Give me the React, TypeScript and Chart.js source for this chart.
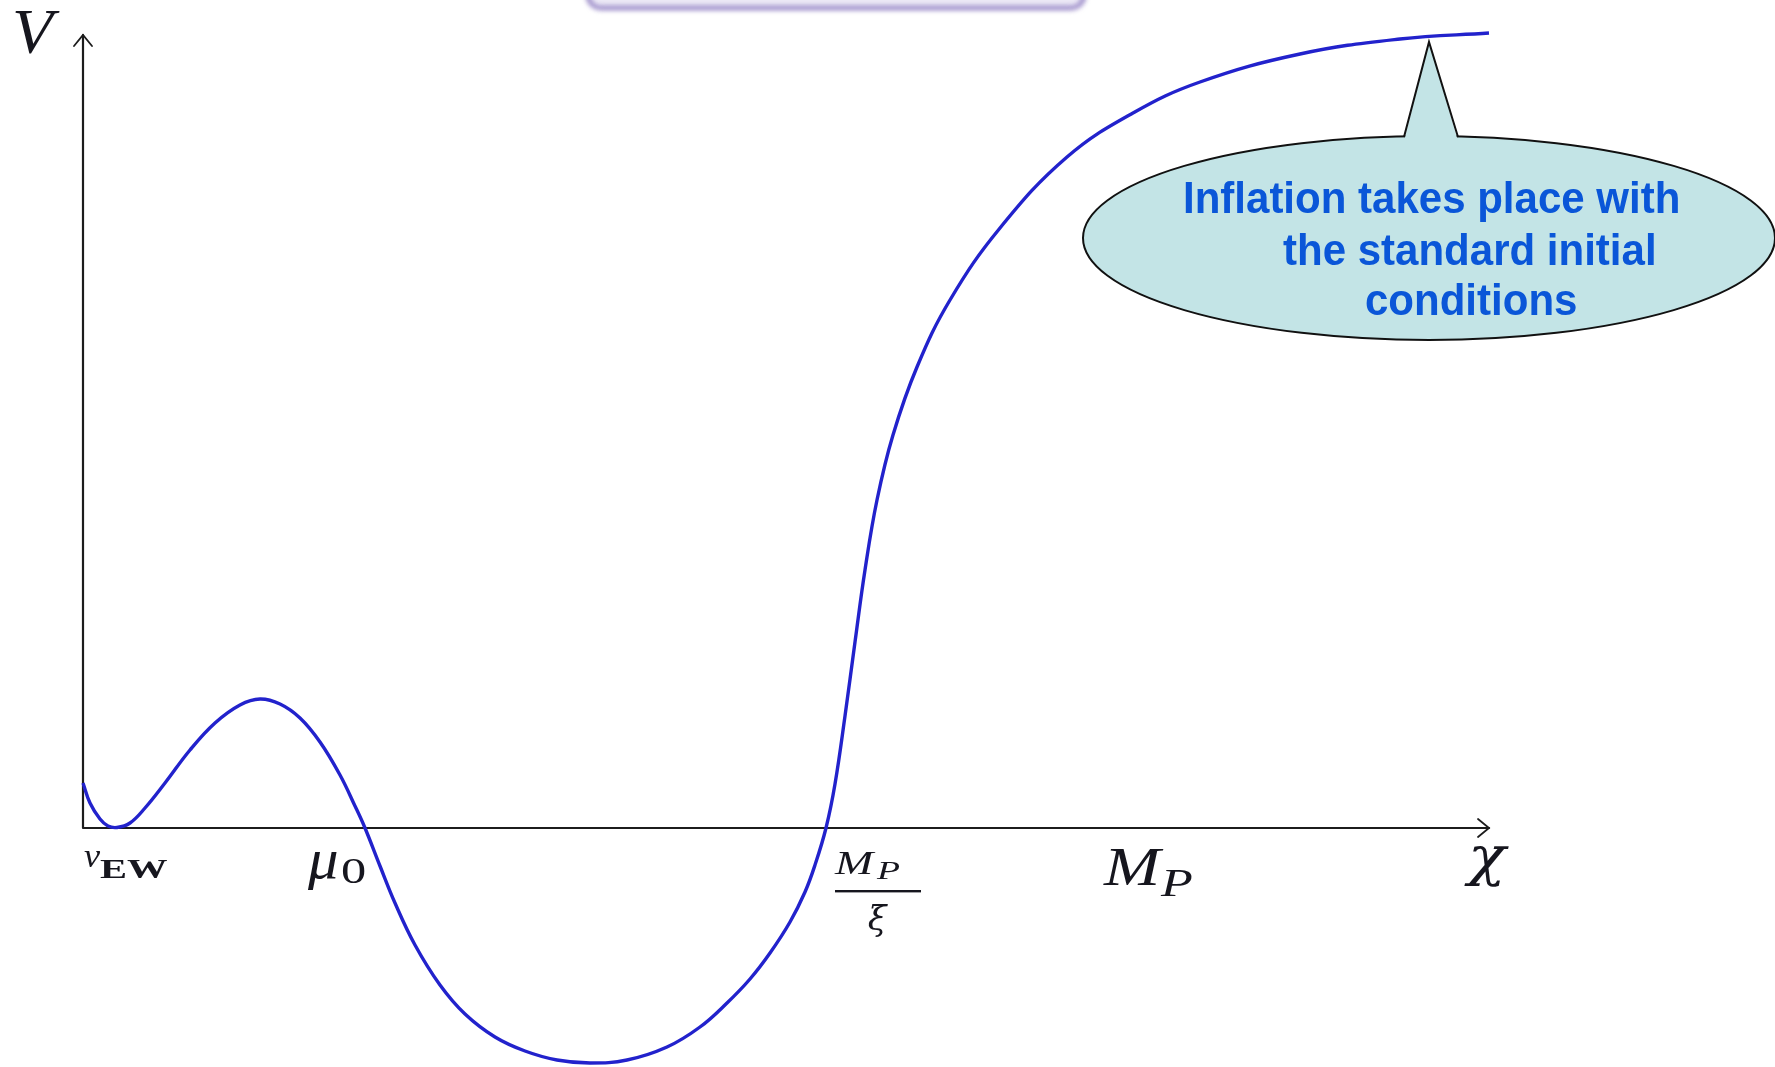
import React, { useEffect, useRef } from "react";
import { Chart, registerables } from "chart.js";

Chart.register(...registerables);

const W = 1775;
const H = 1067;

// Field value χ (arbitrary units) and the potential V(χ) sampled along the curve
const chiValues = [
  0, 0.7, 1.7, 2.5, 3.4, 4.7, 6.2, 8.2, 10.7, 13.2, 15.7, 17.7, 19.7, 21.7, 23.7,
  25.7, 27.2, 28.2, 29.7, 31.2, 33.2, 35.7, 38.2, 41.2, 44.2, 47.4, 50.7, 54.4,
  58.4, 61.7, 64.4, 66.7, 68.7, 70.7, 72.2, 73.2, 74.3, 75.2, 76.2, 77.2, 78.2,
  79.4, 81.0, 83.4, 86.7, 91.7, 98.4, 105.0, 111.7, 121.7, 131.7, 140.6,
];
const potentialValues = [
  4.5, 2.5, 0.9, 0.2, 0.05, 0.5, 2.0, 4.5, 7.8, 10.5, 12.3, 12.9, 12.4, 11.0, 8.6,
  5.3, 2.2, 0, -3.8, -7.5, -11.7, -15.7, -18.6, -20.9, -22.3, -23.2, -23.5, -23.2,
  -21.9, -19.9, -17.5, -15.1, -12.5, -9.4, -6.4, -3.7, 0, 4.4, 11.2, 18.6, 25.8,
  32.8, 39.3, 46.1, 52.8, 60.0, 67.1, 71.5, 74.6, 77.4, 78.9, 79.5,
];

// Axis extents
const CHI_MIN = 0;
const CHI_MAX = 140.6;
const V_MIN = -23.9;
const V_MAX = 79.5;
const V_AXIS_TIP = 79.3;

// Positions (in χ) of the marked field values on the horizontal axis
const markChi = {
  vEW: 0,
  mu0: 22.5,
  mpXi: 79.4,
  mp: 102.4,
  chi: 138.5,
};

// Callout
const calloutLines = ["Inflation takes place with", "the standard initial", "conditions"];
const calloutLineChi = [110.0, 120.0, 128.2];
const calloutTip = { chi: 134.6, v: 78.6 };
const calloutCenter = { chi: 134.6, v: 59.0 };

const SERIF = '"Liberation Serif", "DejaVu Serif", "Times New Roman", serif';
const GREEK = '"DejaVu Serif", "Liberation Serif", serif';
const SANS = '"Liberation Sans", Arial, Helvetica, sans-serif';
const INK = "#16161e";

const sketchPlugin = {
  id: "potentialSketch",
  beforeDatasetsDraw(chart: any) {
    const ctx: CanvasRenderingContext2D = chart.ctx;
    const xs = chart.scales.x;
    const ys = chart.scales.y;

    // partially visible title frame above the plot
    ctx.save();
    ctx.filter = "blur(2.5px)";
    ctx.beginPath();
    ctx.roundRect(588, -50, 496, 58, 13);
    ctx.fillStyle = "rgba(236,233,246,1)";
    ctx.fill();
    ctx.lineWidth = 4;
    ctx.strokeStyle = "rgba(128,108,185,0.9)";
    ctx.stroke();
    ctx.restore();

    const x0 = xs.getPixelForValue(0);
    const y0 = ys.getPixelForValue(0);
    const xEnd = xs.getPixelForValue(CHI_MAX);
    const yTop = ys.getPixelForValue(V_AXIS_TIP);

    ctx.save();
    ctx.strokeStyle = "#1c1c1c";
    ctx.lineWidth = 2.2;
    ctx.lineCap = "round";
    ctx.beginPath();
    ctx.moveTo(x0, y0);
    ctx.lineTo(x0, yTop);
    ctx.moveTo(x0, y0);
    ctx.lineTo(xEnd, y0);
    ctx.stroke();

    // arrow heads
    ctx.lineWidth = 1.8;
    ctx.beginPath();
    ctx.moveTo(x0 - 9, yTop + 11);
    ctx.lineTo(x0, yTop);
    ctx.lineTo(x0 + 9, yTop + 11);
    ctx.moveTo(xEnd - 11, y0 - 9);
    ctx.lineTo(xEnd, y0);
    ctx.lineTo(xEnd - 11, y0 + 9);
    ctx.stroke();
    ctx.restore();
  },
  afterDatasetsDraw(chart: any) {
    const ctx: CanvasRenderingContext2D = chart.ctx;
    const xs = chart.scales.x;
    const ys = chart.scales.y;
    const y0 = ys.getPixelForValue(0);

    // text with optional horizontal stretch
    const text = (s: string, x: number, y: number, font: string, sx = 1, align: CanvasTextAlign = "left") => {
      ctx.save();
      ctx.font = font;
      ctx.textAlign = align;
      ctx.translate(x, y);
      ctx.scale(sx, 1);
      ctx.fillText(s, 0, 0);
      ctx.restore();
    };

    ctx.save();
    ctx.fillStyle = INK;
    ctx.textBaseline = "alphabetic";

    // V axis label
    text("V", 12, 53, `italic 64px ${SERIF}`, 1.05);

    // v_EW
    const xv = xs.getPixelForValue(markChi.vEW);
    text("v", xv + 1, y0 + 39, `italic 33px ${SERIF}`, 1.1);
    text("EW", xv + 17, y0 + 50, `bold 27px ${SERIF}`, 1.5);

    // μ0
    const xm = xs.getPixelForValue(markChi.mu0);
    text("μ", xm, y0 + 50, `italic 58px ${SERIF}`, 1.05);
    text("0", xm + 33, y0 + 55, `36px ${SERIF}`, 1.4);

    // M_P / ξ
    const xf = xs.getPixelForValue(markChi.mpXi);
    text("M", xf - 42, y0 + 46, `italic 34px ${SERIF}`, 1.35);
    text("P", xf + 0, y0 + 51, `italic 26px ${SERIF}`, 1.45);
    ctx.fillRect(xf - 42, y0 + 62, 86, 2.4);
    text("ξ", xf, y0 + 102, `italic 34px ${GREEK}`, 1.0, "center");

    // M_P
    const xp = xs.getPixelForValue(markChi.mp);
    text("M", xp - 3, y0 + 57, `italic 54px ${SERIF}`, 1.25);
    text("P", xp + 54, y0 + 68, `italic 40px ${SERIF}`, 1.3);

    // χ
    const xc = xs.getPixelForValue(markChi.chi);
    text("χ", xc, y0 + 47, `italic 54px ${GREEK}`, 1.15);
    ctx.restore();

    // callout bubble
    const cx = xs.getPixelForValue(calloutCenter.chi);
    const cy = ys.getPixelForValue(calloutCenter.v);
    const tx = xs.getPixelForValue(calloutTip.chi);
    const ty = ys.getPixelForValue(calloutTip.v);
    const rx = 346;
    const ry = 102;
    const baseY = cy - ry + 1;
    const fill = "#c3e4e6";

    ctx.save();
    ctx.beginPath();
    ctx.ellipse(cx, cy, rx, ry, 0, 0, Math.PI * 2);
    ctx.fillStyle = fill;
    ctx.fill();
    ctx.lineWidth = 2;
    ctx.strokeStyle = "#111";
    ctx.stroke();

    ctx.beginPath();
    ctx.moveTo(tx - 25, baseY + 4);
    ctx.lineTo(tx, ty);
    ctx.lineTo(tx + 29, baseY + 4);
    ctx.closePath();
    ctx.fillStyle = fill;
    ctx.fill();
    ctx.beginPath();
    ctx.moveTo(tx - 25, baseY);
    ctx.lineTo(tx, ty);
    ctx.lineTo(tx + 29, baseY);
    ctx.lineJoin = "miter";
    ctx.stroke();

    ctx.fillStyle = "#0a56d8";
    ctx.font = `bold 44px ${SANS}`;
    ctx.textAlign = "left";
    const baselines = [cy - 25, cy + 27, cy + 77];
    calloutLines.forEach((line, i) => {
      ctx.save();
      ctx.translate(xs.getPixelForValue(calloutLineChi[i]), baselines[i]);
      ctx.scale(0.955, 1);
      ctx.fillText(line, 0, 0);
      ctx.restore();
    });
    ctx.restore();
  },
};

export default function App() {
  const canvasRef = useRef<HTMLCanvasElement | null>(null);

  useEffect(() => {
    const canvas = canvasRef.current;
    if (!canvas) return;
    const chart = new Chart(canvas, {
      type: "line",
      data: {
        datasets: [
          {
            data: chiValues.map((x, i) => ({ x, y: potentialValues[i] })),
            borderColor: "#2222cc",
            borderWidth: 3.4,
            pointRadius: 0,
            fill: false,
            tension: 0.4,
            clip: false,
          } as any,
        ],
      },
      options: {
        responsive: false,
        maintainAspectRatio: false,
        animation: false,
        devicePixelRatio: 1,
        layout: { padding: { left: 83, right: W - 1489, top: 33, bottom: 0 } },
        scales: {
          x: { type: "linear", min: CHI_MIN, max: CHI_MAX, display: false },
          y: { type: "linear", min: V_MIN, max: V_MAX, display: false },
        },
        plugins: { legend: { display: false }, tooltip: { enabled: false } },
        events: [],
      },
      plugins: [sketchPlugin],
    });
    return () => chart.destroy();
  }, []);

  return (
    <div style={{ position: "fixed", left: 0, top: 0, width: W, height: H, background: "#fff" }}>
      <canvas ref={canvasRef} width={W} height={H} style={{ display: "block", width: W, height: H }} />
    </div>
  );
}
